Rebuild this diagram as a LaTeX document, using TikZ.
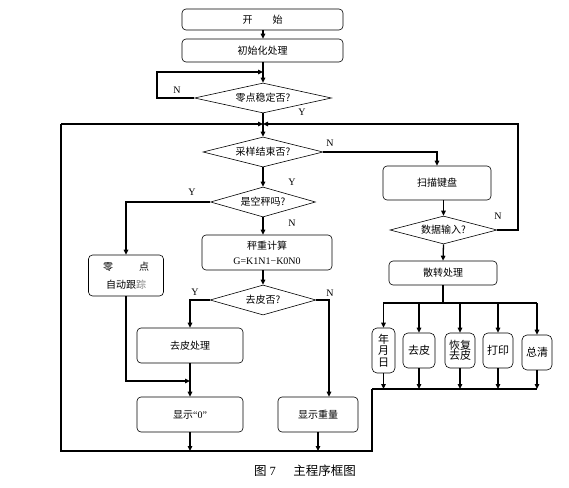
\documentclass[tikz,border=0pt]{standalone}
\usepackage{fontspec}
\setmainfont{Liberation Serif}
\newfontfamily\cjk{Noto Sans CJK SC}
\usetikzlibrary{shapes.geometric,arrows.meta}
\begin{document}
\begin{tikzpicture}[x=1pt,y=-1pt,
  box/.style={draw, rounded corners=4pt, line width=0.6pt, inner sep=0pt, align=center,
    font={\cjk\fontsize{10}{12}\selectfont}},
  sbox/.style={box, rounded corners=5pt, font={\cjk\fontsize{11}{12.5}\selectfont}},
  dia/.style={draw, diamond, line width=0.6pt, inner sep=0pt,
    font={\cjk\fontsize{10}{12}\selectfont}},
  ln/.style={line width=1.3pt},
  ar/.style={ln, -{Triangle[length=5pt,width=4.5pt]}},
  lab/.style={font={\fontsize{10}{12}\selectfont}, inner sep=0pt}]
\useasboundingbox (0,0) rectangle (569,487);

% nodes
\node[box, minimum width=161, minimum height=21] (start) at (262.5,19.5) {开\hspace{2em}始};
\node[box, minimum width=161, minimum height=23] (init) at (262.5,50.5) {初始化处理};
\node[dia, minimum width=137, minimum height=30, aspect=4.5] (d1) at (263,98) {零点稳定否?};
\node[dia, minimum width=120, minimum height=30, aspect=4] (d2) at (263,152) {采样结束否?};
\node[dia, minimum width=105, minimum height=30, aspect=3.5] (d3) at (263,202) {是空秤吗?};
\node[box, minimum width=130, minimum height=35] (weigh) at (267,252.5) {秤重计算\\[3pt]{\rmfamily G=K1N1−K0N0}};
\node[box, minimum width=75, minimum height=41] (zero) at (126,275.5) {零\hspace{2.6em}点\\[6pt]自动跟{\color{gray}踪}};
\node[dia, minimum width=106, minimum height=30, aspect=3.5] (d4) at (263,300) {去皮否?};
\node[box, minimum width=106, minimum height=35] (tare) at (190,345.5) {去皮处理};
\node[box, minimum width=106, minimum height=35] (show0) at (190,414.5) {显示{\rmfamily“0”}};
\node[box, minimum width=80, minimum height=35] (showW) at (318,414.5) {显示重量};
\node[box, minimum width=108, minimum height=34] (scan) at (437,183) {扫描键盘};
\node[dia, minimum width=107, minimum height=28, aspect=3.8] (d5) at (443.5,230) {数据输入?};
\node[box, minimum width=108, minimum height=24] (disp) at (443,273) {散转处理};
\node[sbox, minimum width=23, minimum height=45] (s1) at (383.5,350.5) {年\\[-1pt]月\\[-1pt]日};
\node[sbox, minimum width=32, minimum height=35] (s2) at (419,350.5) {去皮};
\node[sbox, minimum width=30, minimum height=35] (s3) at (460,350.5) {恢复\\[-2pt]去皮};
\node[sbox, minimum width=30, minimum height=35] (s4) at (498,350.5) {打印};
\node[sbox, minimum width=30, minimum height=35] (s5) at (537,352.5) {总清};

% junction coordinates
\coordinate (jA) at (263,72);
\coordinate (jB) at (263,124);
\coordinate (lA) at (157,98);
\coordinate (b1) at (443,303);
\coordinate (b1l) at (383,303);
\coordinate (b1r) at (537,303);
\coordinate (b2l) at (372,389);
\coordinate (b2r) at (537,389);
\coordinate (bl1) at (372,451);
\coordinate (bl2) at (61,451);
\coordinate (bl3) at (61,124);
\coordinate (rr1) at (518,230);
\coordinate (rr2) at (518,124);
\coordinate (j0) at (190,381);
\coordinate (e0) at (190,451);
\coordinate (eW) at (318,451);

% connectors
\draw[ar] (start.south -| jA) -- (init.north -| jA);
\draw[ar] (init.south -| jA) -- (d1.north);
\draw[ar] (d1.west) -- (lA) |- (jA);
\draw[ar] (d1.south) -- (d2.north);
\draw[ar] (bl3) -- (jB);
\draw[ar] (d5.east) -- (rr1) -- (rr2) -- (jB);
\draw[ar] (d2.south) -- (d3.north);
\draw[ar] (d2.east) -| (scan.north);
\draw[ar] (scan.south -| d5.north) -- (d5.north);
\draw[ar] (d5.south) -- (disp.north);
\draw[ar] (d3.west) -| (zero.north);
\draw[ar] (d3.south) -- (d3.south |- weigh.north);
\draw[ar] (d4.north |- weigh.south) -- (d4.north);
\draw[ar] (d4.west) -| (tare.north);
\draw[ar] (d4.east) -| ([xshift=11pt]showW.north);
\draw[ar] (tare.south) -- (show0.north);
\draw[ar] (zero.south) |- (j0);
\draw[ar] (show0.south) -- (e0);
\draw[ar] (showW.south) -- (eW);
% bus 1
\draw[ln] (disp.south -| b1) -- (b1);
\draw[ln] (b1l) -- (b1r);
\foreach \s in {s1,s2,s3,s4,s5} \draw[ar] (\s.north |- b1) -- (\s.north);
% bus 2
\foreach \s in {s1,s2,s3,s4,s5} \draw[ar] (\s.south) -- (\s.south |- b2r);
\draw[ln] (b2l) -- (b2r);
\draw[ln] (b2l) -- (bl1) -- (bl2) -- (bl3);

% labels
\node[lab] (n1) at (177,90) {N};
\node[lab] (y1) at (302,112) {Y};
\node[lab] (n2) at (330,143) {N};
\node[lab] (y2) at (292,182) {Y};
\node[lab] (y3) at (192,192) {Y};
\node[lab] (n3) at (292,223) {N};
\node[lab] (y4) at (195,292) {Y};
\node[lab] (n4) at (330,293) {N};
\node[lab] (n5) at (498,216) {N};

\node[font={\fontsize{12.5}{14}\selectfont}] (cap) at (305,471) {{\cjk 图} 7\hspace{1.4em}{\cjk 主程序框图}};
\end{tikzpicture}
\end{document}
